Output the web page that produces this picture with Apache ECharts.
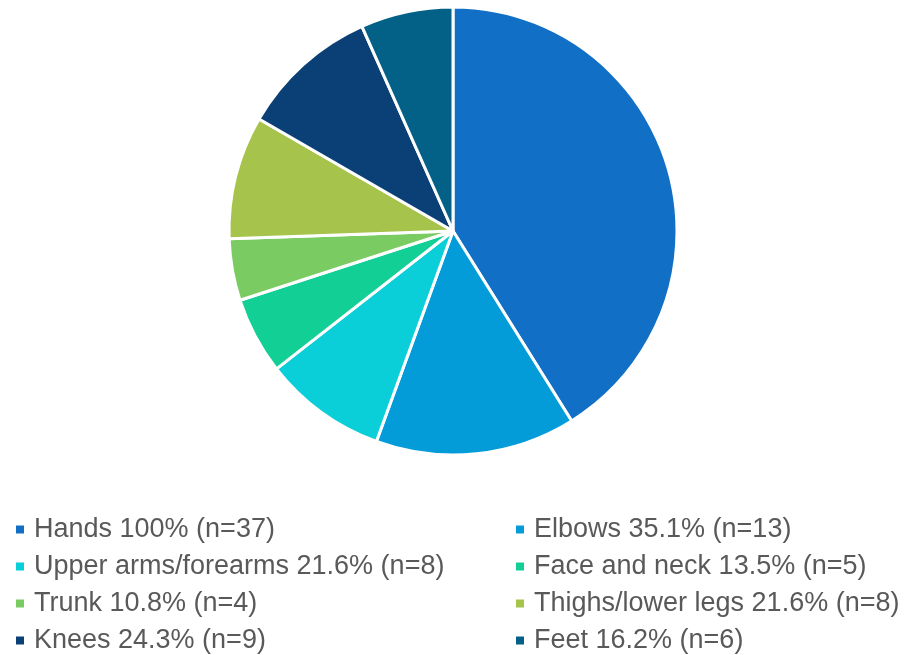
<!DOCTYPE html>
<html>
<head>
<meta charset="utf-8">
<script src="https://cdn.jsdelivr.net/npm/echarts@6/dist/echarts.min.js"></script>
<style>html,body{margin:0;padding:0;background:#fff;}#c{width:923px;height:655px;}</style>
</head>
<body>
<div id="c"></div>
<script>
const categories = ["Hands", "Elbows", "Upper arms/forearms", "Face and neck", "Trunk", "Thighs/lower legs", "Knees", "Feet"];
const counts = [37, 13, 8, 5, 4, 8, 9, 6];
const pctLabels = ["100%", "35.1%", "21.6%", "13.5%", "10.8%", "21.6%", "24.3%", "16.2%"];
const colors = ["#1170C6", "#049CD8", "#0BCFD8", "#12CF96", "#7ACB62", "#A6C34B", "#0B4076", "#036086"];

const labelMap = {};
categories.forEach((c, i) => { labelMap[c] = c + " " + pctLabels[i] + " (n=" + counts[i] + ")"; });
const leftNames = categories.filter((c, i) => i % 2 === 0);
const rightNames = categories.filter((c, i) => i % 2 === 1);

const legendCommon = {
  orient: 'vertical',
  top: 516,
  padding: 0,
  itemWidth: 10,
  itemHeight: 10,
  itemGap: 10,
  icon: 'rect',
  selectedMode: false,
  formatter: n => labelMap[n],
  textStyle: { fontFamily: 'Liberation Sans, Arial, sans-serif', fontSize: 27, color: '#595959', lineHeight: 27, padding: [0, 0, 0, 4] }
};

const chart = echarts.init(document.getElementById('c'));
chart.setOption({
  animation: false,
  color: colors,
  legend: [
    Object.assign({}, legendCommon, { left: 14, data: leftNames }),
    Object.assign({}, legendCommon, { left: 514, data: rightNames })
  ],
  series: [{
    type: 'pie',
    center: [453, 231],
    radius: 224,
    startAngle: 90,
    clockwise: true,
    label: { show: false },
    labelLine: { show: false },
    itemStyle: { borderColor: '#fff', borderWidth: 3 },
    emphasis: { disabled: true },
    data: categories.map((c, i) => ({ name: c, value: counts[i] }))
  }]
});
</script>
</body>
</html>
